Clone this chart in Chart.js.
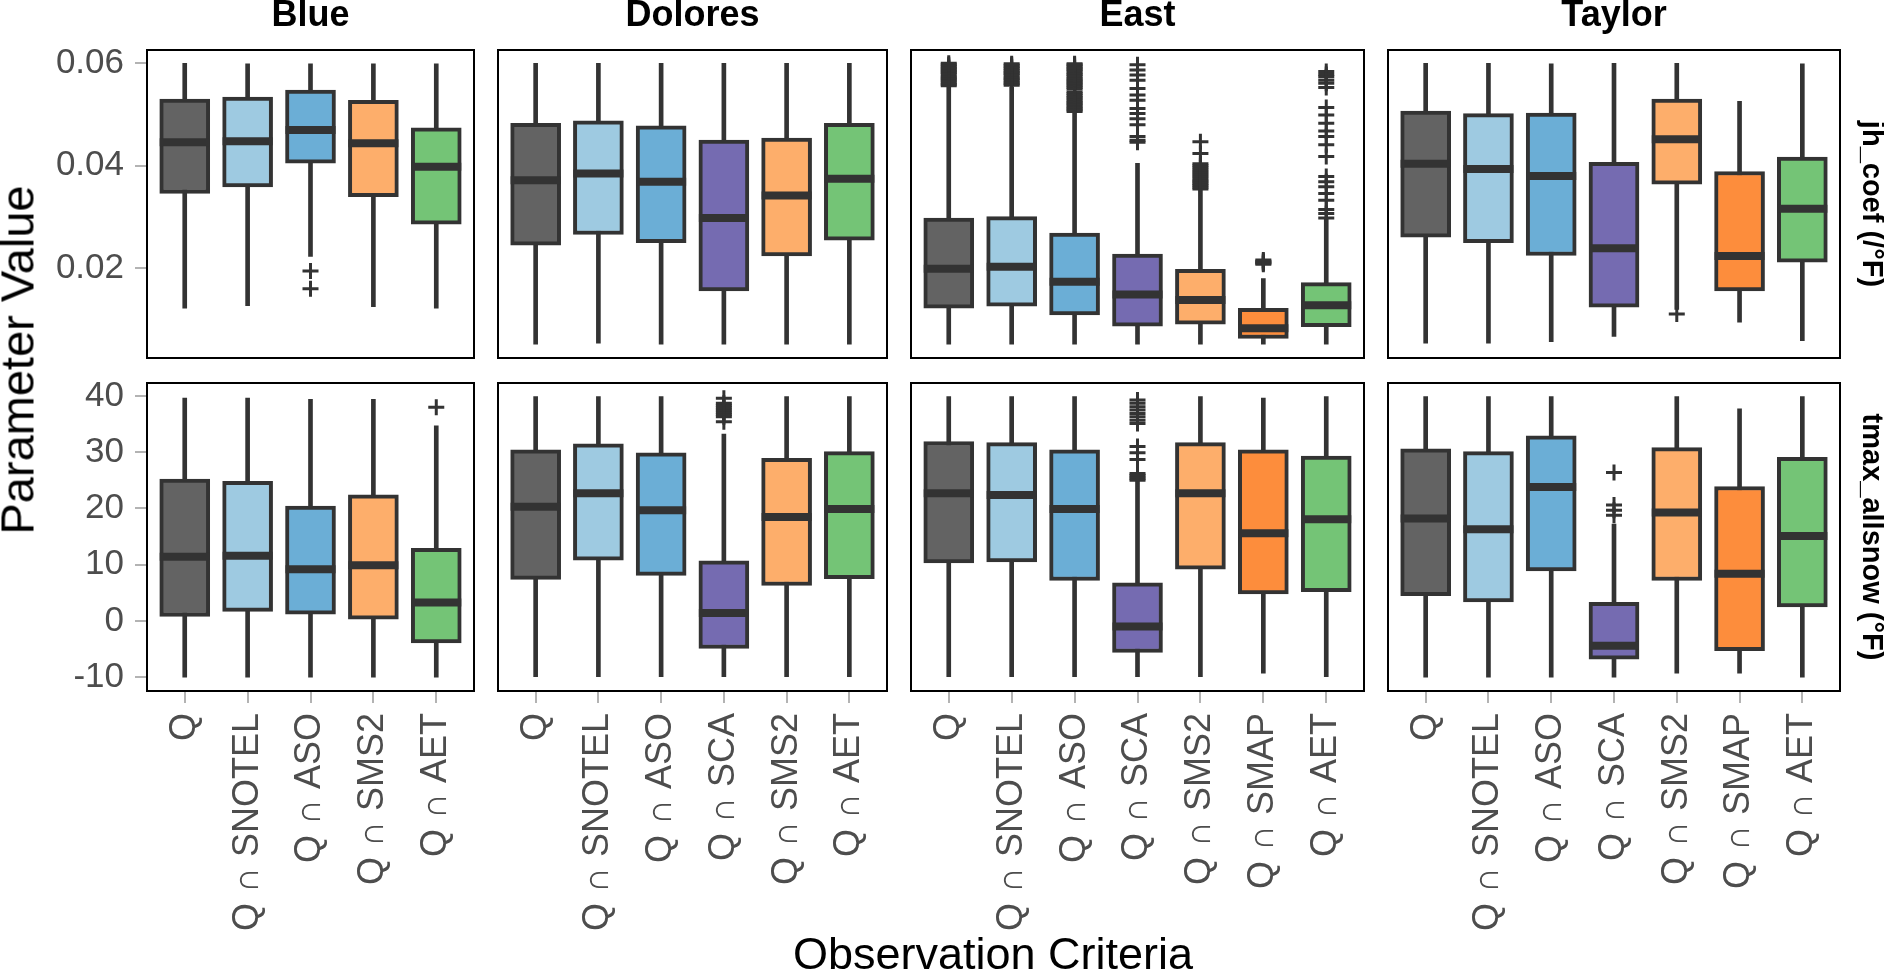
<!DOCTYPE html>
<html>
<head>
<meta charset="utf-8">
<script src="https://cdn.jsdelivr.net/npm/chart.js@4.4.1/dist/chart.umd.min.js"></script>
<style>
  html, body { margin: 0; padding: 0; background: #fff; }
  body { width: 1884px; height: 973px; position: relative; overflow: hidden;
         font-family: 'Liberation Sans', Arial, Helvetica, sans-serif; }
  canvas { position: absolute; }
  .strip { position: absolute; top: -4px; font-weight: bold; font-size: 36px; line-height: 36px;
           text-align: center; color: #000; z-index: 2; }
  .rstrip { position: absolute; font-weight: bold; font-size: 29px; line-height: 29px; color: #000;
            white-space: nowrap; transform: translate(-50%, -50%) rotate(90deg); z-index: 2; }
  .ytitle { position: absolute; left: 17px; top: 360px; font-size: 47px; line-height: 47px; color: #000;
            white-space: nowrap; transform: translate(-50%, -50%) rotate(-90deg); z-index: 2; }
  .xtitle { position: absolute; left: 993px; top: 931px; font-size: 45px; line-height: 45px; color: #000;
            white-space: nowrap; transform: translateX(-50%); z-index: 2; }
</style>
</head>
<body>
<div class="ytitle">Parameter Value</div>
<div class="xtitle">Observation Criteria</div>
<script>
// categories per basin
const blueCats = ['Q', 'Q ∩ SNOTEL', 'Q ∩ ASO', 'Q ∩ SMS2', 'Q ∩ AET'];
const doloresCats = ['Q', 'Q ∩ SNOTEL', 'Q ∩ ASO', 'Q ∩ SCA', 'Q ∩ SMS2', 'Q ∩ AET'];
const eastCats = ['Q', 'Q ∩ SNOTEL', 'Q ∩ ASO', 'Q ∩ SCA', 'Q ∩ SMS2', 'Q ∩ SMAP', 'Q ∩ AET'];
const taylorCats = ['Q', 'Q ∩ SNOTEL', 'Q ∩ ASO', 'Q ∩ SCA', 'Q ∩ SMS2', 'Q ∩ SMAP', 'Q ∩ AET'];
const basins = ['Blue', 'Dolores', 'East', 'Taylor'];
const params = ['jh_coef (/°F)', 'tmax_allsnow (°F)'];

// tick labels
const jhTicks = [0.02, 0.04, 0.06];
const tmaxTicks = [-10, 0, 10, 20, 30, 40];

// box stats per category: [lower whisker, q1, median, q3, upper whisker]
const jhBlue = [
  [0.0122, 0.0346, 0.0446, 0.0530, 0.0600],
  [0.0127, 0.0359, 0.0448, 0.0534, 0.0599],
  [0.0223, 0.0405, 0.0470, 0.0548, 0.0599],
  [0.0125, 0.0340, 0.0444, 0.0528, 0.0599],
  [0.0122, 0.0286, 0.0398, 0.0474, 0.0599]
];
const jhDolores = [
  [0.0052, 0.0245, 0.0372, 0.0483, 0.0600],
  [0.0054, 0.0266, 0.0385, 0.0488, 0.0600],
  [0.0052, 0.0250, 0.0369, 0.0478, 0.0600],
  [0.0052, 0.0156, 0.0298, 0.0450, 0.0600],
  [0.0052, 0.0224, 0.0342, 0.0454, 0.0600],
  [0.0052, 0.0255, 0.0375, 0.0483, 0.0600]
];
const jhEast = [
  [0.0052, 0.0122, 0.0199, 0.0298, 0.0553],
  [0.0052, 0.0126, 0.0203, 0.0301, 0.0553],
  [0.0052, 0.0109, 0.0174, 0.0269, 0.0503],
  [0.0052, 0.0087, 0.0149, 0.0228, 0.0405],
  [0.0052, 0.0091, 0.0138, 0.0198, 0.0352],
  [0.0052, 0.0063, 0.0083, 0.0122, 0.0180],
  [0.0052, 0.0086, 0.0128, 0.0172, 0.0296]
];
const jhTaylor = [
  [0.0054, 0.0261, 0.0404, 0.0507, 0.0600],
  [0.0054, 0.0250, 0.0394, 0.0502, 0.0600],
  [0.0057, 0.0225, 0.0380, 0.0503, 0.0599],
  [0.0067, 0.0124, 0.0239, 0.0407, 0.0600],
  [0.0120, 0.0364, 0.0452, 0.0530, 0.0600],
  [0.0095, 0.0156, 0.0224, 0.0389, 0.0526],
  [0.0059, 0.0212, 0.0316, 0.0417, 0.0599]
];
const tmaxBlue = [
  [-10.0, 0.8, 11.4, 25.2, 39.6],
  [-10.0, 1.7, 11.6, 24.8, 39.6],
  [-10.0, 1.2, 9.2, 20.4, 39.4],
  [-10.0, 0.3, 9.9, 22.4, 39.4],
  [-10.0, -3.9, 3.3, 12.9, 34.7]
];
const tmaxDolores = [
  [-9.9, 7.4, 20.3, 30.4, 39.9],
  [-9.9, 10.8, 22.7, 31.5, 39.9],
  [-9.9, 8.1, 19.7, 29.9, 39.9],
  [-9.9, -4.9, 1.4, 10.7, 33.2],
  [-9.9, 6.3, 18.5, 28.9, 39.9],
  [-9.9, 7.5, 19.9, 30.1, 39.9]
];
const tmaxEast = [
  [-9.9, 10.3, 22.7, 31.9, 39.9],
  [-9.9, 10.5, 22.4, 31.7, 39.9],
  [-9.9, 7.2, 19.9, 30.4, 39.9],
  [-9.9, -5.6, -1.0, 6.8, 24.8],
  [-9.9, 9.2, 22.7, 31.7, 39.9],
  [-9.3, 4.8, 15.6, 30.4, 39.6],
  [-9.9, 5.2, 18.1, 29.3, 39.9]
];
const tmaxTaylor = [
  [-10.0, 4.5, 18.2, 30.6, 39.9],
  [-10.0, 3.4, 16.3, 30.1, 39.9],
  [-10.0, 8.9, 23.8, 32.9, 39.9],
  [-10.0, -6.8, -4.4, 3.3, 17.2],
  [-9.3, 7.2, 19.3, 30.8, 39.9],
  [-9.3, -5.3, 8.4, 23.9, 37.7],
  [-10.0, 2.5, 15.1, 29.1, 39.9]
];

// outliers: [category index, value]
const jhBlueOut = [[2, 0.0195], [2, 0.0160]];
const jhDoloresOut = [];
const jhEastOut = [
  [0, 0.0556], [0, 0.0559], [0, 0.0562], [0, 0.0566], [0, 0.0569], [0, 0.0572], [0, 0.0575], [0, 0.0579],
  [0, 0.0582], [0, 0.0585], [0, 0.0588], [0, 0.0591], [0, 0.0594], [0, 0.0597], [0, 0.0600],
  [1, 0.0557], [1, 0.0560], [1, 0.0563], [1, 0.0567], [1, 0.0570], [1, 0.0573], [1, 0.0577], [1, 0.0580],
  [1, 0.0583], [1, 0.0586], [1, 0.0590], [1, 0.0593], [1, 0.0596], [1, 0.0599],
  [2, 0.0506], [2, 0.0509], [2, 0.0512], [2, 0.0515], [2, 0.0518], [2, 0.0521], [2, 0.0524], [2, 0.0527],
  [2, 0.0531], [2, 0.0534], [2, 0.0537], [2, 0.0541], [2, 0.0544], [2, 0.0550], [2, 0.0553], [2, 0.0556],
  [2, 0.0559], [2, 0.0562], [2, 0.0565], [2, 0.0568], [2, 0.0571], [2, 0.0575], [2, 0.0578], [2, 0.0581],
  [2, 0.0585], [2, 0.0588], [2, 0.0591], [2, 0.0594], [2, 0.0597], [2, 0.0599],
  [3, 0.0446], [3, 0.0450], [3, 0.0457], [3, 0.0480], [3, 0.0492], [3, 0.0502], [3, 0.0512], [3, 0.0528],
  [3, 0.0538], [3, 0.0551], [3, 0.0567], [3, 0.0577], [3, 0.0587], [3, 0.0597],
  [4, 0.0447], [4, 0.0424], [4, 0.0355], [4, 0.0358], [4, 0.0362], [4, 0.0365], [4, 0.0369], [4, 0.0372],
  [4, 0.0376], [4, 0.0380], [4, 0.0384], [4, 0.0388], [4, 0.0392], [4, 0.0396], [4, 0.0400], [4, 0.0404],
  [5, 0.0208], [5, 0.0210], [5, 0.0212], [5, 0.0214], [5, 0.0216],
  [6, 0.0584], [6, 0.0578], [6, 0.0574], [6, 0.0567], [6, 0.0561], [6, 0.0553], [6, 0.0514], [6, 0.0499],
  [6, 0.0483], [6, 0.0468], [6, 0.0457], [6, 0.0441], [6, 0.0418], [6, 0.0379], [6, 0.0369], [6, 0.0359],
  [6, 0.0346], [6, 0.0333], [6, 0.0315], [6, 0.0307], [6, 0.0298]
];
const jhTaylorOut = [[4, 0.0111]];
const tmaxBlueOut = [[4, 38.0]];
const tmaxDoloresOut = [
  [3, 35.4], [3, 36.3], [3, 36.7], [3, 37.1], [3, 37.5], [3, 37.9], [3, 38.3], [3, 38.7], [3, 39.6]
];
const tmaxEastOut = [
  [3, 25.0], [3, 25.3], [3, 25.6], [3, 25.9], [3, 26.2], [3, 28.7], [3, 29.9], [3, 31.0],
  [3, 35.1], [3, 35.7], [3, 36.3], [3, 36.9], [3, 37.5], [3, 38.1], [3, 38.7], [3, 39.3]
];
const tmaxTaylorOut = [[3, 26.4], [3, 20.6], [3, 19.7], [3, 18.8]];

// styling
const ink = '#333333';
const fills = {
  'Q': '#636363', 'Q ∩ SNOTEL': '#9ecae1', 'Q ∩ ASO': '#6baed6', 'Q ∩ SCA': '#756bb1',
  'Q ∩ SMS2': '#fdae6b', 'Q ∩ SMAP': '#fd8d3c', 'Q ∩ AET': '#74c476'
};
const font = "'Liberation Sans', Arial, Helvetica, sans-serif";
const colLeft = [147, 498, 911, 1388];
const colWidth = [327, 389, 453, 452];
const rowTop = [50, 383];
const panelH = 308;
const M = 40;
const yAxisW = 147;
const xAxisH = 250;

const yRows = [
  { min: 0.0025, max: 0.0626, ticks: jhTicks, fmt: v => v.toFixed(2) },
  { min: -12.45, max: 42.3, ticks: tmaxTicks, fmt: v => String(v) }
];

const panelBorder = {
  id: 'panelBorder',
  afterDraw(chart) {
    const a = chart.chartArea, c = chart.ctx;
    c.save();
    c.strokeStyle = '#000';
    c.lineWidth = 2;
    c.strokeRect(a.left, a.top, a.right - a.left, a.bottom - a.top);
    c.restore();
  }
};

function makePanel(row, col, cats, stats, outs) {
  const L = colLeft[col], W = colWidth[col], T = rowTop[row];
  const showY = col === 0, showX = row === 1;
  const extL = showY ? yAxisW : M;
  const extB = showX ? xAxisH : M;
  const cv = document.createElement('canvas');
  cv.width = W + extL + M;
  cv.height = panelH + M + extB;
  cv.style.left = (L - extL) + 'px';
  cv.style.top = (T - M) + 'px';
  cv.style.width = cv.width + 'px';
  cv.style.height = cv.height + 'px';
  document.body.appendChild(cv);
  const y = yRows[row];
  const tickGrid = { drawOnChartArea: false, drawTicks: true, tickLength: 12, color: '#b3b3b3', lineWidth: 2, offset: false };

  new Chart(cv, {
    type: 'bar',
    data: {
      datasets: [
        {
          type: 'bar', data: cats.map((c, i) => ({ x: i, y: [stats[i][0], stats[i][4]] })),
          backgroundColor: ink, borderWidth: 0, barThickness: 4, grouped: false, order: 3
        },
        {
          type: 'bar', data: cats.map((c, i) => ({ x: i, y: [stats[i][1], stats[i][3]] })),
          backgroundColor: cats.map(c => fills[c]), borderColor: ink, borderWidth: 4,
          borderSkipped: false, barThickness: 50, grouped: false, order: 2
        },
        {
          type: 'line', data: cats.map((c, i) => ({ x: i, y: stats[i][2] })), showLine: false,
          pointStyle: 'line', pointRadius: 25, pointBorderWidth: 8, pointBorderColor: ink, order: 1
        },
        {
          type: 'line', data: outs.map(o => ({ x: o[0], y: o[1] })), showLine: false,
          pointStyle: 'cross', pointRadius: 8, pointBorderWidth: 3, pointBorderColor: ink, order: 0
        }
      ]
    },
    options: {
      responsive: false,
      animation: false,
      events: [],
      layout: { padding: { left: showY ? 0 : M, right: M, top: M, bottom: showX ? 0 : M } },
      plugins: { legend: { display: false }, tooltip: { enabled: false } },
      scales: {
        x: {
          type: 'linear', offset: false, min: -0.6, max: cats.length - 0.4,
          display: showX,
          afterBuildTicks: s => { s.ticks = cats.map((c, i) => ({ value: i })); },
          afterFit: s => { if (showX) s.height = xAxisH; },
          grid: tickGrid, border: { display: false },
          ticks: {
            autoSkip: false, minRotation: 90, maxRotation: 90, padding: 10,
            color: '#4d4d4d', font: { family: font, size: 36 },
            callback: v => cats[v]
          }
        },
        y: {
          type: 'linear', min: y.min, max: y.max,
          display: showY,
          afterBuildTicks: s => { s.ticks = y.ticks.map(v => ({ value: v })); },
          afterFit: s => { if (showY) s.width = yAxisW; },
          grid: tickGrid, border: { display: false },
          ticks: { padding: 11, color: '#4d4d4d', font: { family: font, size: 35 }, callback: v => y.fmt(v) }
        }
      }
    },
    plugins: [panelBorder]
  });
}

makePanel(0, 0, blueCats, jhBlue, jhBlueOut);
makePanel(0, 1, doloresCats, jhDolores, jhDoloresOut);
makePanel(0, 2, eastCats, jhEast, jhEastOut);
makePanel(0, 3, taylorCats, jhTaylor, jhTaylorOut);
makePanel(1, 0, blueCats, tmaxBlue, tmaxBlueOut);
makePanel(1, 1, doloresCats, tmaxDolores, tmaxDoloresOut);
makePanel(1, 2, eastCats, tmaxEast, tmaxEastOut);
makePanel(1, 3, taylorCats, tmaxTaylor, tmaxTaylorOut);

// facet strip labels
basins.forEach((b, i) => {
  const d = document.createElement('div');
  d.className = 'strip';
  d.style.left = colLeft[i] + 'px';
  d.style.width = colWidth[i] + 'px';
  d.textContent = b;
  document.body.appendChild(d);
});
params.forEach((p, r) => {
  const d = document.createElement('div');
  d.className = 'rstrip';
  d.style.left = '1872px';
  d.style.top = (rowTop[r] + panelH / 2) + 'px';
  d.textContent = p;
  document.body.appendChild(d);
});
</script>
</body>
</html>
